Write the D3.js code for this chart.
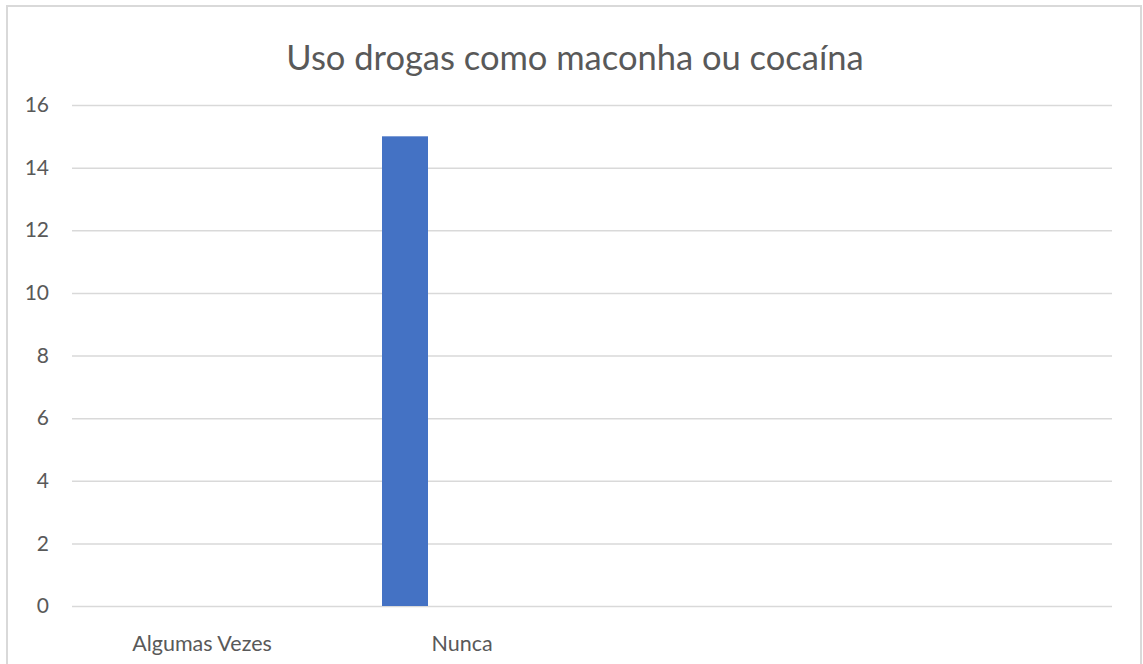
<!DOCTYPE html>
<html>
<head>
<meta charset="utf-8">
<script src="https://cdn.jsdelivr.net/npm/d3@7"></script>
<style>
  html, body { margin: 0; padding: 0; background: #fff; }
  svg { display: block; }
  text { font-family: Lato, "Open Sans", sans-serif; fill: #595959; }
</style>
</head>
<body>
<svg id="chart" width="1143" height="664"></svg>
<script>
// data
const categories = ["Algumas Vezes", "Nunca", "", ""];
const values = [0, 15, null, null];
const yTicks = [0, 2, 4, 6, 8, 10, 12, 14, 16];
const title = "Uso drogas como maconha ou cocaína";

const plot = { left: 72, right: 1112, top: 105, bottom: 606 };
const barW = 46, barShift = -57;   // bar sits left of its category centre

const svg = d3.select('#chart');

// outer frame
svg.append('rect')
    .attr('x', 7).attr('y', 6)
    .attr('width', 1134).attr('height', 664)
    .attr('fill', 'none')
    .attr('stroke', '#d9d9d9')
    .attr('stroke-width', 2);

svg.append('text')
    .attr('x', 575).attr('y', 70)
    .attr('text-anchor', 'middle')
    .style('font-size', '34.5px')
    .text(title);

const x = d3.scaleBand()
    .domain(d3.range(categories.length))
    .range([plot.left, plot.right]);

const y = d3.scaleLinear()
    .domain([0, 16])
    .range([plot.bottom, plot.top]);

// gridlines + y labels
const yAxis = svg.append('g')
    .attr('transform', `translate(${plot.left},0)`)
    .call(d3.axisLeft(y).tickValues(yTicks).tickSize(-(plot.right - plot.left)).tickPadding(23));
yAxis.select('.domain').remove();
yAxis.selectAll('.tick line').attr('stroke', '#d9d9d9').attr('stroke-width', 1.5);
yAxis.selectAll('.tick text')
    .style('font-size', '21px')
    .style('font-family', 'Lato, sans-serif')
    .attr('fill', '#595959');

// bars
svg.append('g').selectAll('rect')
    .data(values.map((v, i) => ({ i, v })).filter(d => d.v != null))
    .join('rect')
    .attr('x', d => x(d.i) + x.bandwidth() / 2 + barShift - barW / 2)
    .attr('width', barW)
    .attr('y', d => y(d.v))
    .attr('height', d => y(0) - y(d.v))
    .attr('fill', '#4472c4');

// category labels
const xAxis = svg.append('g')
    .attr('transform', `translate(0,${plot.bottom})`)
    .call(d3.axisBottom(x).tickFormat(i => categories[i]).tickSize(0).tickPadding(30));
xAxis.select('.domain').remove();
xAxis.selectAll('.tick text')
    .style('font-size', '21.5px')
    .style('font-family', 'Lato, sans-serif')
    .attr('fill', '#595959');
</script>
</body>
</html>
